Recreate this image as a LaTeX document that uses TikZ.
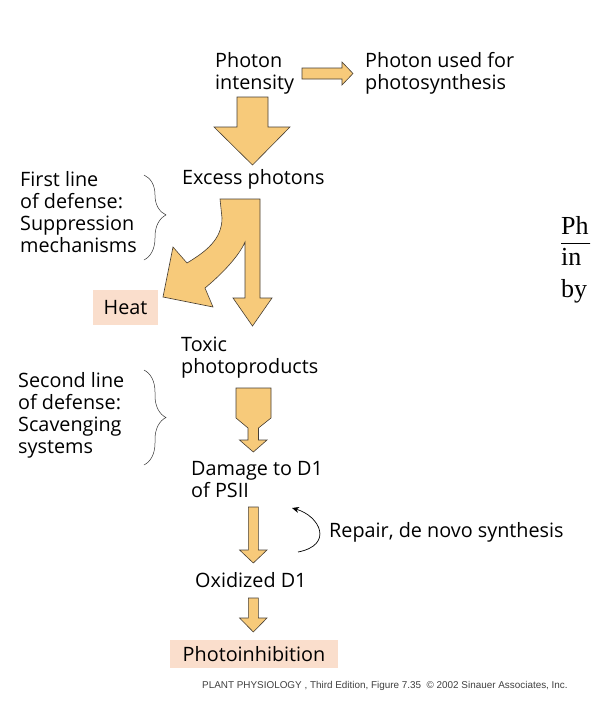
\documentclass[tikz,border=0pt]{standalone}
\usepackage{fontspec}
\setmainfont{Open Sans}
\newfontfamily\slidefont{Liberation Serif}
\newfontfamily\creditfont{Liberation Sans}
\usetikzlibrary{arrows.meta, decorations.pathreplacing}

\definecolor{blockfill}{RGB}{247,202,122}
\definecolor{blockline}{RGB}{70,62,52}
\definecolor{peach}{RGB}{250,222,204}

\begin{document}
\begin{tikzpicture}[x=1pt, y=-1pt,
    txt/.style={anchor=base west, inner sep=0pt, align=left,
      font=\fontsize{19.8}{21.8}\selectfont},
    peachbox/.style={fill=peach, inner sep=0pt, font=\fontsize{19.8}{21.8}\selectfont},
    blockarrow/.style={fill=blockfill, draw=blockline, line width=0.6pt, line join=miter},
    bracket/.style={draw=black!80, line width=0.5pt, decorate,
      decoration={brace, amplitude=22pt}},
    slide/.style={anchor=base west, inner sep=0pt, font=\slidefont\fontsize{26}{30}\selectfont}]
    \useasboundingbox (0,0) rectangle (590,710);
    % Define the nodes (base = last line)
    \node[txt] (intensity) at (215,89) {Photon\\intensity};
    \node[txt] (used) at (365,89) {Photon used for\\photosynthesis};
    \node[txt] (excess) at (182,184) {Excess photons};
    \node[txt] (first) at (20,252) {First line\\of defense:\\Suppression\\mechanisms};
    \node[peachbox, minimum width=65pt, minimum height=35pt] (heat) at (125.5,307.5) {Heat};
    \node[txt] (toxic) at (181,373) {Toxic\\photoproducts};
    \node[txt] (second) at (18,453) {Second line\\of defense:\\Scavenging\\systems};
    \node[txt] (damage) at (191,497) {Damage to D1\\of PSII};
    \node[txt] (oxidized) at (195,587) {Oxidized D1};
    \node[txt] (repair) at (329,537) {Repair, de novo synthesis};
    \node[peachbox, minimum width=168pt, minimum height=28pt] (inhibition) at (254,654) {Photoinhibition};
    \node[anchor=base west, inner sep=0pt, font=\creditfont\fontsize{9.9}{11}\selectfont, text=black!75] (credit) at (202,688)
      {PLANT PHYSIOLOGY , Third Edition, Figure 7.35 \ \textcopyright{} 2002 Sinauer Associates, Inc.};
    % slide text behind the figure
    \begin{scope}
      \clip (0,0) rectangle (590,710);
      \node[slide] (slideA) at (561,234) {Ph};
      \node[slide] (slideB) at (561,265) {in};
      \node[slide] (slideC) at (561,297) {by};
      \draw[line width=0.8pt] (slideA.base west) ++(0,9) -- ++(40,0);
    \end{scope}
    % Define the block arrows
    \draw[blockarrow] (302,68) -- (342,68) -- (342,62) -- (353,73.5) -- (342,85) -- (342,79) -- (302,79) -- cycle;
    \draw[blockarrow] (237,97) -- (268,97) -- (268,127) -- (290,127) -- (252.5,165) -- (214,127) -- (237,127) -- cycle;
    \draw[blockarrow] (220,199) -- (260,199) -- (260,298) -- (272,298) -- (252.5,326) -- (233,298) -- (245,298)
      -- (245,242) .. controls (239,256) and (222,274) .. (205,288) -- (213,307) -- (163,297) -- (173,247)
      -- (187,263) .. controls (205,252) and (222,240) .. (222,218) -- cycle;
    \draw[blockarrow] (236,388) -- (271,388) -- (271,418) -- (258.5,428) -- (258.5,440) -- (267,440) -- (253.3,452)
      -- (239.5,440) -- (248,440) -- (248,428) -- (236,418) -- cycle;
    \draw[blockarrow] (248.3,507) -- (258.3,507) -- (258.3,550) -- (267,550) -- (253.3,563) -- (239.6,550) -- (248.3,550) -- cycle;
    \draw[blockarrow] (248.3,598) -- (258.3,598) -- (258.3,618) -- (267,618) -- (253.3,632) -- (239.6,618) -- (248.3,618) -- cycle;
    % Define the braces and the repair loop
    \draw[bracket, decoration={aspect=0.47}] (144,175) -- (144,260);
    \draw[bracket] (144,370) -- (144,465);
    \coordinate (repairfrom) at (298,552);
    \coordinate (repairto) at (292,508);
    \draw[-{Stealth[length=7pt, width=6pt]}, line width=0.7pt] (repairfrom) .. controls (334,545) and (320,516) .. (repairto);
\end{tikzpicture}
\end{document}
